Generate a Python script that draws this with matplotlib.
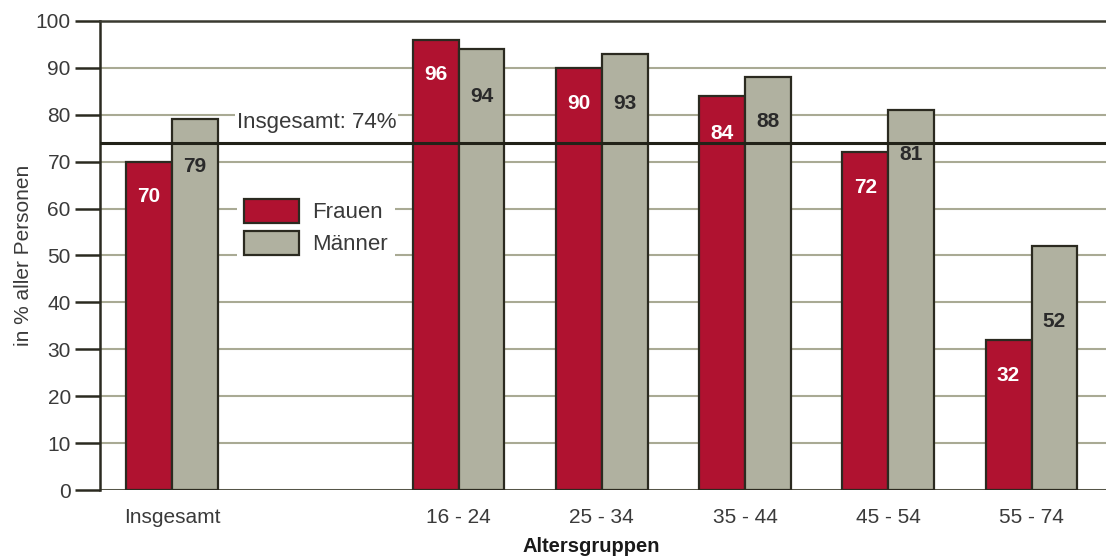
import numpy as np
import matplotlib
matplotlib.use('Agg')
import matplotlib.pyplot as plt

plt.rcParams['font.family'] = ['Liberation Sans', 'DejaVu Sans']

# data
categories = ['Insgesamt', '16 - 24', '25 - 34', '35 - 44', '45 - 54', '55 - 74']
frauen = [70, 96, 90, 84, 72, 32]
maenner = [79, 94, 93, 88, 81, 52]
overall = 74

# label offsets below the bar top
frauen_off = [7.5, 7.5, 7.5, 8, 7.5, 7.5]
maenner_off = [10, 10, 10.5, 9.5, 9.5, 16]

pos = np.array([0, 2, 3, 4, 5, 6])
w = 0.32
red = '#b01230'
grey = '#b0b1a0'
edge = '#2b2a20'
grid_c = '#a9aa94'
txt_c = '#3a3a3a'

fig = plt.figure(figsize=(11.06, 5.6), dpi=100)
ax = fig.add_axes([100 / 1106, 70 / 560, 1006 / 1106, 469 / 560])

ax.bar(pos - w / 2, frauen, w, color=red, edgecolor=edge, linewidth=1.6,
       label='Frauen', zorder=3)
ax.bar(pos + w / 2, maenner, w, color=grey, edgecolor=edge, linewidth=1.6,
       label='Männer', zorder=3)

for x, v, o in zip(pos, frauen, frauen_off):
    ax.text(x - w / 2, v - o, str(v), ha='center', va='center', color='white',
            fontsize=15, fontweight='bold', zorder=5)
for x, v, o in zip(pos, maenner, maenner_off):
    ax.text(x + w / 2, v - o, str(v), ha='center', va='center', color='#2a2a2a',
            fontsize=15, fontweight='bold', zorder=5)

ax.axhline(overall, color='#222218', linewidth=2.2, zorder=4)
ax.text(0.45, overall + 4.3, 'Insgesamt: 74%', fontsize=16, color=txt_c,
        ha='left', va='center', zorder=2,
        bbox=dict(facecolor='white', edgecolor='none', pad=1.5))

ax.set_xlim(-0.503, 6.52)
ax.set_ylim(0, 100)
ax.set_yticks(range(0, 101, 10))
ax.set_xticks(pos)
ax.set_xticklabels(categories)
ax.yaxis.grid(True, color=grid_c, linewidth=1.5, zorder=0)
ax.set_axisbelow(True)

for s in ['right', 'bottom']:
    ax.spines[s].set_visible(False)
ax.spines['left'].set_color('#2b2a20')
ax.spines['left'].set_linewidth(1.8)
ax.spines['top'].set_color('#3a3a30')
ax.spines['top'].set_linewidth(1.8)
ax.axhline(0, color='#3a3a30', linewidth=1.8, zorder=2)

ax.tick_params(axis='y', length=18, width=1.8, color='#2b2a20',
               labelsize=15, labelcolor=txt_c, pad=3)
ax.tick_params(axis='x', length=0, labelsize=15, labelcolor=txt_c, pad=13)

ax.set_ylabel('in % aller Personen', fontsize=15, color=txt_c, labelpad=2)
ax.set_xlabel('Altersgruppen', fontsize=14.5, fontweight='bold', color='#1a1a1a')
ax.xaxis.set_label_coords(0.488, -0.1)

leg = ax.legend(loc='upper left', bbox_to_anchor=(0.125, 0.658), frameon=True,
                fontsize=16, handlelength=2.5, handleheight=1.25,
                labelspacing=0.35, borderpad=0.3, handletextpad=0.6)
leg.get_frame().set_facecolor('white')
leg.get_frame().set_edgecolor('none')
leg.get_frame().set_alpha(1)
for t in leg.get_texts():
    t.set_color(txt_c)

fig.savefig('out.png', dpi=100)
